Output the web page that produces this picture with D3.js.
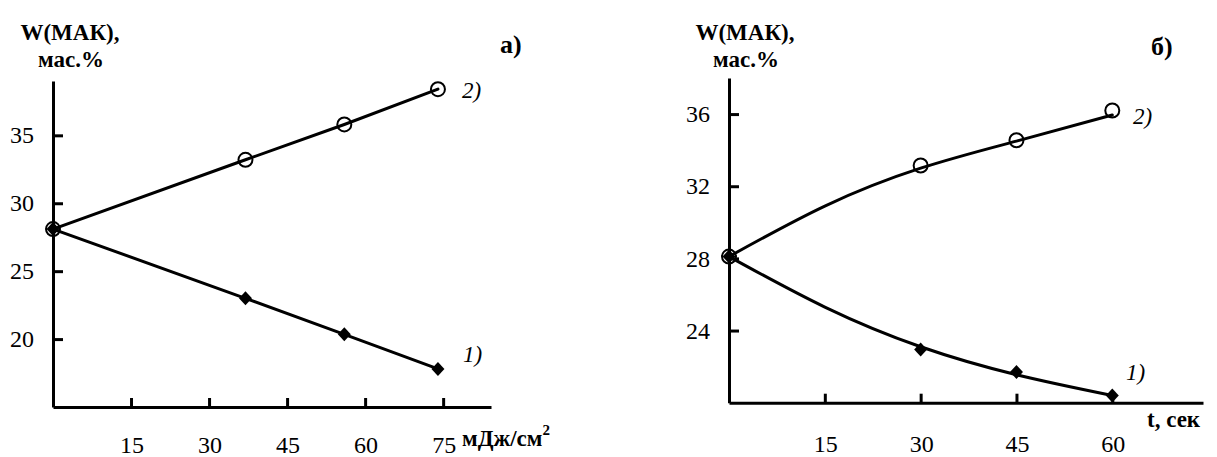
<!DOCTYPE html>
<html>
<head>
<meta charset="utf-8">
<script src="https://cdn.jsdelivr.net/npm/d3@7"></script>
<style>
  html, body { margin: 0; padding: 0; background: #fff; }
  svg { display: block; }
</style>
</head>
<body>
<svg id="chart" width="1217" height="457"></svg>
<script>
// Panel а): МАК content vs irradiation dose, мДж/см²
const doseValues = [0, 37, 56, 74];
const doseSeries1 = [28.1, 23.0, 20.35, 17.8];
const doseSeries2 = [28.1, 33.2, 35.8, 38.4];
const doseTicksX = [15, 30, 45, 60, 75];
const doseTicksY = [20, 25, 30, 35];

// Panel б): МАК content vs exposure time, сек
const timeValues = [0, 30, 45, 60];
const timeSeries1 = [28.1, 22.95, 21.7, 20.4];
const timeSeries2 = [28.1, 33.15, 34.55, 36.2];
// smoothed trend curves drawn through the measurements
const trendTimes = [0, 15, 30, 45, 60];
const timeTrend1 = [28.1, 25.3, 23.1, 21.55, 20.4];
const timeTrend2 = [28.1, 30.9, 33.0, 34.5, 35.95];
const timeTicksX = [15, 30, 45, 60];
const timeTicksY = [24, 28, 32, 36];

const FONT = "Liberation Serif";
const svg = d3.select("#chart");

function label(g) {
  return g.append("text").attr("font-family", FONT).attr("fill", "#000");
}

function panel(cfg) {
  const g = svg.append("g");
  const x = d3.scaleLinear().domain(cfg.xDomain).range(cfg.xRange);
  const y = d3.scaleLinear().domain(cfg.yDomain).range(cfg.yRange);

  // y axis with inward ticks
  const yAxis = d3.axisRight(y).tickValues(cfg.yTicks).tickSize(10).tickSizeOuter(0).tickFormat("");
  const ya = g.append("g").attr("transform", `translate(${cfg.xRange[0]},0)`).call(yAxis);
  // x axis with upward ticks
  const xAxis = d3.axisTop(x).tickValues(cfg.xTicks).tickSize(9).tickSizeOuter(0).tickFormat("");
  const xa = g.append("g").attr("transform", `translate(0,${cfg.yRange[0]})`).call(xAxis);
  [ya, xa].forEach(a => {
    a.selectAll("path.domain").attr("stroke", "#000").attr("stroke-width", 3);
    a.selectAll(".tick line").attr("stroke", "#000").attr("stroke-width", 3);
  });

  // tick labels
  g.selectAll("text.ylab").data(cfg.yTicks).join("text")
    .attr("class", "ylab")
    .attr("font-family", FONT)
    .attr("x", cfg.xRange[0] - 19)
    .attr("y", d => y(d))
    .attr("dy", "0.34em")
    .attr("text-anchor", "end")
    .attr("font-size", 24)
    .text(d => d);
  g.selectAll("text.xlab").data(cfg.xTicks).join("text")
    .attr("class", "xlab")
    .attr("font-family", FONT)
    .attr("x", d => x(d) + 1)
    .attr("y", cfg.yRange[0] + cfg.xLabelDrop)
    .attr("text-anchor", "middle")
    .attr("font-size", 24)
    .text(d => d);

  // lines
  cfg.lines.forEach(l => {
    const pts = l.xs.map((v, i) => [v, l.ys[i]]);
    g.append("path")
      .attr("d", d3.line().x(d => x(d[0])).y(d => y(d[1])).curve(l.curve)(pts))
      .attr("fill", "none").attr("stroke", "#000").attr("stroke-width", 3)
      .attr("stroke-linejoin", "round").attr("stroke-linecap", "round");
  });

  // markers: open circles (series 2) and filled diamonds (series 1)
  const s2 = cfg.xs.map((v, i) => [v, cfg.s2[i]]);
  const s1 = cfg.xs.map((v, i) => [v, cfg.s1[i]]);
  g.selectAll("path.dia").data(s1).join("path")
    .attr("class", "dia")
    .attr("transform", d => `translate(${x(d[0])},${y(d[1])})`)
    .attr("d", "M0,-7L6.5,0L0,7L-6.5,0Z")
    .attr("fill", "#000");
  g.selectAll("circle.circ").data(s2).join("circle")
    .attr("class", "circ")
    .attr("cx", d => x(d[0])).attr("cy", d => y(d[1]))
    .attr("r", 7)
    .attr("fill", "none").attr("stroke", "#000").attr("stroke-width", 2);

  // series labels
  label(g).attr("x", cfg.lab2[0]).attr("y", cfg.lab2[1]).attr("dy", "0.34em")
    .attr("font-size", 23).attr("font-style", "italic").text("2)");
  label(g).attr("x", cfg.lab1[0]).attr("y", cfg.lab1[1]).attr("dy", "0.34em")
    .attr("font-size", 23).attr("font-style", "italic").text("1)");

  // axis titles
  const t = label(g).attr("text-anchor", "middle").attr("font-weight", "bold").attr("font-size", 23);
  t.append("tspan").attr("x", cfg.titleX).attr("y", 40).text("W(МАК),");
  t.append("tspan").attr("x", cfg.titleX + 1).attr("y", 67).text("мас.%");

  label(g).attr("x", cfg.panelLab[0]).attr("y", cfg.panelLab[1])
    .attr("font-weight", "bold").attr("font-size", 26).text(cfg.panelName);

  const xl = label(g).attr("x", cfg.xTitle[0]).attr("y", cfg.xTitle[1])
    .attr("font-weight", "bold").attr("font-size", 23);
  cfg.xTitleParts(xl);
}

panel({
  xDomain: [0, 84.2], xRange: [53, 491],
  yDomain: [15, 39], yRange: [407, 81],
  xTicks: doseTicksX, yTicks: doseTicksY,
  xLabelDrop: 46,
  xs: doseValues, s1: doseSeries1, s2: doseSeries2,
  lines: [
    { xs: doseValues, ys: doseSeries2, curve: d3.curveLinear },
    { xs: doseValues, ys: doseSeries1, curve: d3.curveLinear }
  ],
  lab2: [462, 90], lab1: [463, 354],
  titleX: 70,
  panelName: "а)", panelLab: [500, 53],
  xTitle: [462, 446],
  xTitleParts: t => {
    t.append("tspan").text("мДж/см");
    t.append("tspan").attr("dy", -11).attr("font-size", 15).text("2");
  }
});

panel({
  xDomain: [0, 74.2], xRange: [729, 1203],
  yDomain: [20, 38], yRange: [402.7, 78],
  xTicks: timeTicksX, yTicks: timeTicksY,
  xLabelDrop: 49,
  xs: timeValues, s1: timeSeries1, s2: timeSeries2,
  lines: [
    { xs: trendTimes, ys: timeTrend2, curve: d3.curveNatural },
    { xs: trendTimes, ys: timeTrend1, curve: d3.curveNatural }
  ],
  lab2: [1133, 116], lab1: [1126, 372],
  titleX: 745,
  panelName: "б)", panelLab: [1151, 55],
  xTitle: [1147, 427],
  xTitleParts: t => { t.append("tspan").text("t, сек"); }
});
</script>
</body>
</html>
